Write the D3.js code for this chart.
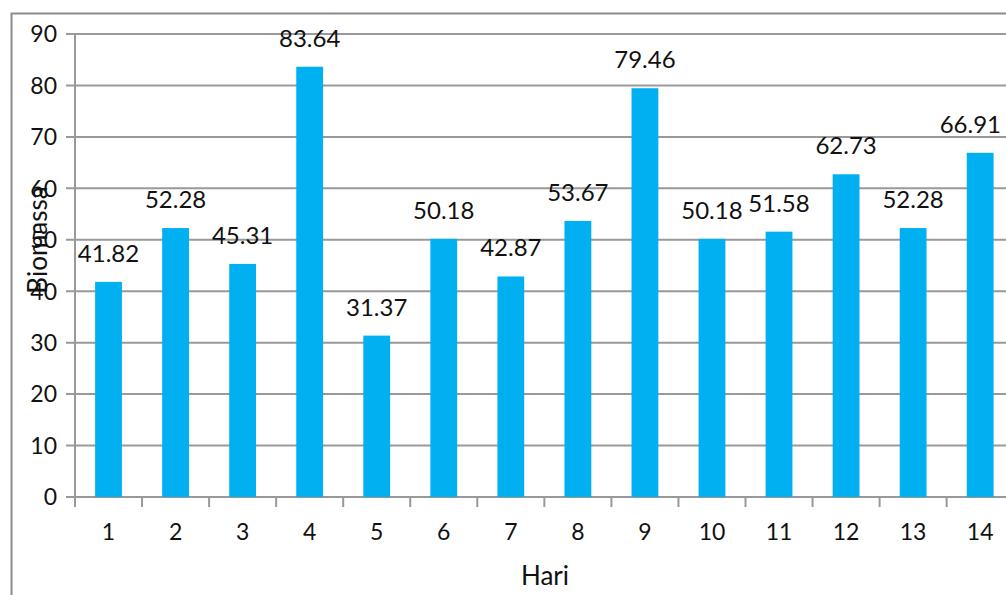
<!DOCTYPE html>
<html>
<head>
<meta charset="utf-8">
<script src="https://cdn.jsdelivr.net/npm/d3@7"></script>
<style>
    body { margin: 0; background: #fff; }
    text { font-family: Lato, "Open Sans", sans-serif; fill: #111; }
</style>
</head>
<body>
<div id="chart"></div>
<script>
const days = ['1', '2', '3', '4', '5', '6', '7', '8', '9', '10', '11', '12', '13', '14'];
const biomassa = [41.82, 52.28, 45.31, 83.64, 31.37, 50.18, 42.87, 53.67, 79.46, 50.18, 51.58, 62.73, 52.28, 66.91];
const yTicks = [0, 10, 20, 30, 40, 50, 60, 70, 80, 90];

const width = 1006;
const height = 595;
const plotLeft = 75;
const plotTop = 34;
const plotBottom = 497;
const step = 67.05;

const svg = d3.select('#chart')
    .append('svg')
    .attr('width', width)
    .attr('height', height);

// outer chart border (cut off on the right and bottom)
svg.append('path')
    .attr('d', `M11.5,${height + 5} V13.5 H${width + 5}`)
    .attr('fill', 'none')
    .attr('stroke', '#8c8c8c')
    .attr('stroke-width', 2);

const x = d3.scaleBand()
    .domain(days)
    .range([plotLeft, plotLeft + step * days.length])
    .paddingInner(0.6)
    .paddingOuter(0.3);

const y = d3.scaleLinear()
    .domain([0, 90])
    .range([plotBottom, plotTop]);

// gridlines + y ticks
svg.selectAll('.grid')
    .data(yTicks)
    .enter()
    .append('line')
    .attr('class', 'grid')
    .attr('x1', plotLeft - 9)
    .attr('x2', width)
    .attr('y1', d => y(d))
    .attr('y2', d => y(d))
    .attr('stroke', '#999')
    .attr('stroke-width', 2);

svg.selectAll('.ylabel')
    .data(yTicks)
    .enter()
    .append('text')
    .attr('class', 'ylabel')
    .attr('x', 57)
    .attr('y', d => y(d))
    .attr('dy', '0.36em')
    .attr('text-anchor', 'end')
    .style('font-size', '23px')
    .text(d => d);

// bars
svg.selectAll('.bar')
    .data(biomassa)
    .enter()
    .append('rect')
    .attr('class', 'bar')
    .attr('x', (d, i) => x(days[i]))
    .attr('y', d => y(d))
    .attr('width', x.bandwidth())
    .attr('height', d => y(0) - y(d))
    .attr('fill', '#00b0f0');

// data labels, kept inside the visible area
svg.selectAll('.value')
    .data(biomassa)
    .enter()
    .append('text')
    .attr('class', 'value')
    .attr('y', d => y(d) - 20)
    .attr('text-anchor', 'middle')
    .style('font-size', '24px')
    .text(d => d.toFixed(2))
    .attr('x', function(d, i) {
        const cx = x(days[i]) + x.bandwidth() / 2;
        const half = this.getComputedTextLength() / 2;
        return Math.min(cx, width - 5 - half);
    });

// y axis line
svg.append('line')
    .attr('x1', plotLeft)
    .attr('x2', plotLeft)
    .attr('y1', plotTop)
    .attr('y2', plotBottom + 10)
    .attr('stroke', '#999')
    .attr('stroke-width', 2);

// x axis ticks at category boundaries
const boundaries = days.map(d => x(d) - x.step() * 0.3).concat([plotLeft + x.step() * days.length]);
svg.selectAll('.xtick')
    .data(boundaries)
    .enter()
    .append('line')
    .attr('class', 'xtick')
    .attr('x1', d => d)
    .attr('x2', d => d)
    .attr('y1', plotBottom)
    .attr('y2', plotBottom + 10)
    .attr('stroke', '#999')
    .attr('stroke-width', 2);

svg.selectAll('.xlabel')
    .data(days)
    .enter()
    .append('text')
    .attr('class', 'xlabel')
    .attr('x', d => x(d) + x.bandwidth() / 2)
    .attr('y', 532)
    .attr('dy', '0.36em')
    .attr('text-anchor', 'middle')
    .style('font-size', '23px')
    .text(d => d);

// axis titles
svg.append('text')
    .attr('x', 545)
    .attr('y', 576)
    .attr('dy', '0.36em')
    .attr('text-anchor', 'middle')
    .style('font-size', '26px')
    .text('Hari');

svg.append('text')
    .attr('transform', 'translate(38,240) rotate(-90)')
    .attr('dy', '0.36em')
    .attr('text-anchor', 'middle')
    .style('font-size', '26px')
    .text('Biomassa');
</script>
</body>
</html>
